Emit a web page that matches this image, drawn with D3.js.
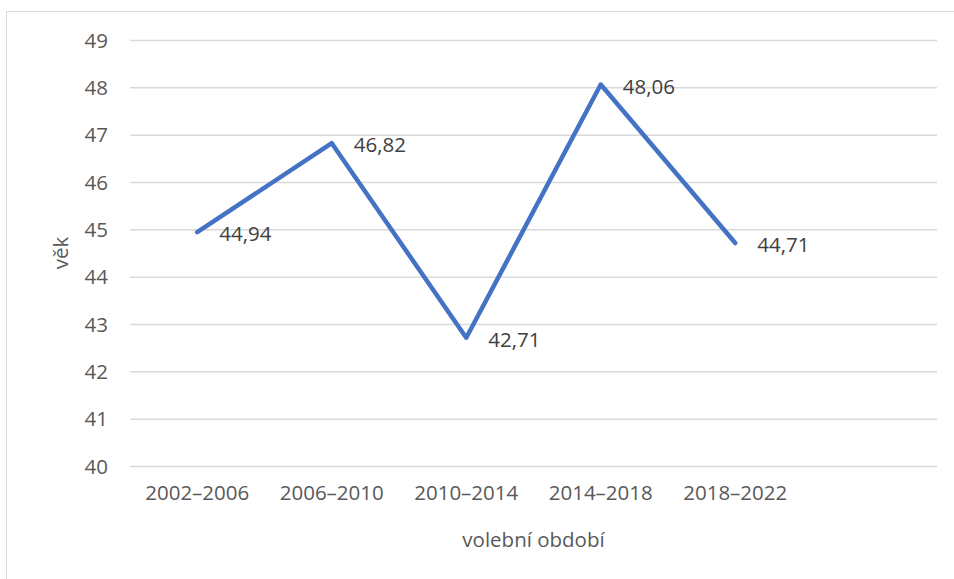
<!DOCTYPE html>
<html>
<head>
<meta charset="utf-8">
<script src="https://cdn.jsdelivr.net/npm/d3@7"></script>
<style>
  html, body { margin: 0; padding: 0; background: #ffffff; }
  svg { display: block; }
  text { font-family: "Open Sans", "Noto Sans", sans-serif; }
</style>
</head>
<body>
<div id="chart"></div>
<script>
const categories = ["2002–2006", "2006–2010", "2010–2014", "2014–2018", "2018–2022"];
const values = [44.94, 46.82, 42.71, 48.06, 44.71];
const valueLabels = ["44,94", "46,82", "42,71", "48,06", "44,71"];
const yTicks = [40, 41, 42, 43, 44, 45, 46, 47, 48, 49];
const slots = categories.concat([""]);   // the axis has one empty trailing slot
const xTitle = "volební období";
const yTitle = "věk";

const W = 954, H = 579;
const margin = { left: 130, right: 17, top: 40, bottom: 113 };

const svg = d3.select("#chart").append("svg")
  .attr("width", W).attr("height", H);

// chart area border (extends beyond the photographed window)
svg.append("rect")
  .attr("x", 6.5).attr("y", 11.5)
  .attr("width", W + 20).attr("height", H + 20)
  .attr("fill", "#ffffff")
  .attr("stroke", "#d9d9d9").attr("stroke-width", 1);

const x = d3.scaleBand()
  .domain(slots.map((d, i) => i))
  .range([margin.left, W - margin.right])
  .padding(0);

const y = d3.scaleLinear()
  .domain([40, 49])
  .range([H - margin.bottom, margin.top]);

// gridlines
const grid = svg.append("g")
  .attr("transform", `translate(${margin.left},0)`)
  .call(d3.axisLeft(y).tickValues(yTicks).tickSize(-(W - margin.right - margin.left)).tickFormat(""));
grid.select(".domain").remove();
grid.selectAll(".tick line").attr("stroke", "#d9d9d9").attr("stroke-width", 1.5);

// y axis labels
const yAxis = svg.append("g")
  .attr("transform", `translate(${margin.left},0)`)
  .call(d3.axisLeft(y).tickValues(yTicks).tickSize(0).tickPadding(22).tickFormat(d3.format("d")));
yAxis.select(".domain").remove();
yAxis.selectAll("text")
  .attr("fill", "#595959")
  .style("font-size", "20.5px")
  .attr("dy", "0.35em");

// x axis labels
const xAxis = svg.append("g")
  .attr("transform", `translate(0,${H - margin.bottom})`)
  .call(d3.axisBottom(x).tickSize(0).tickPadding(19).tickFormat(i => slots[i]));
xAxis.select(".domain").remove();
xAxis.selectAll("text")
  .attr("fill", "#595959")
  .style("font-size", "20.5px");

// line
const cx = i => x(i) + x.bandwidth() / 2;
const line = d3.line()
  .x((d, i) => cx(i))
  .y(d => y(d));

svg.append("path")
  .datum(values)
  .attr("fill", "none")
  .attr("stroke", "#4472c4")
  .attr("stroke-width", 4.5)
  .attr("stroke-linejoin", "round")
  .attr("stroke-linecap", "round")
  .attr("d", line);

// data labels
svg.append("g").selectAll("text")
  .data(values)
  .join("text")
  .attr("x", (d, i) => cx(i) + 22)
  .attr("y", d => y(d) + 2)
  .attr("dy", "0.35em")
  .attr("fill", "#404040")
  .style("font-size", "20.5px")
  .text((d, i) => valueLabels[i]);

// axis titles
svg.append("text")
  .attr("x", (margin.left + W - margin.right) / 2 - 0)
  .attr("y", 540)
  .attr("dy", "0.35em")
  .attr("text-anchor", "middle")
  .attr("fill", "#595959")
  .style("font-size", "20.5px")
  .text(xTitle);

svg.append("text")
  .attr("transform", `translate(61,${(margin.top + H - margin.bottom) / 2}) rotate(-90)`)
  .attr("dy", "0.35em")
  .attr("text-anchor", "middle")
  .attr("fill", "#595959")
  .style("font-size", "20.5px")
  .text(yTitle);
</script>
</body>
</html>
